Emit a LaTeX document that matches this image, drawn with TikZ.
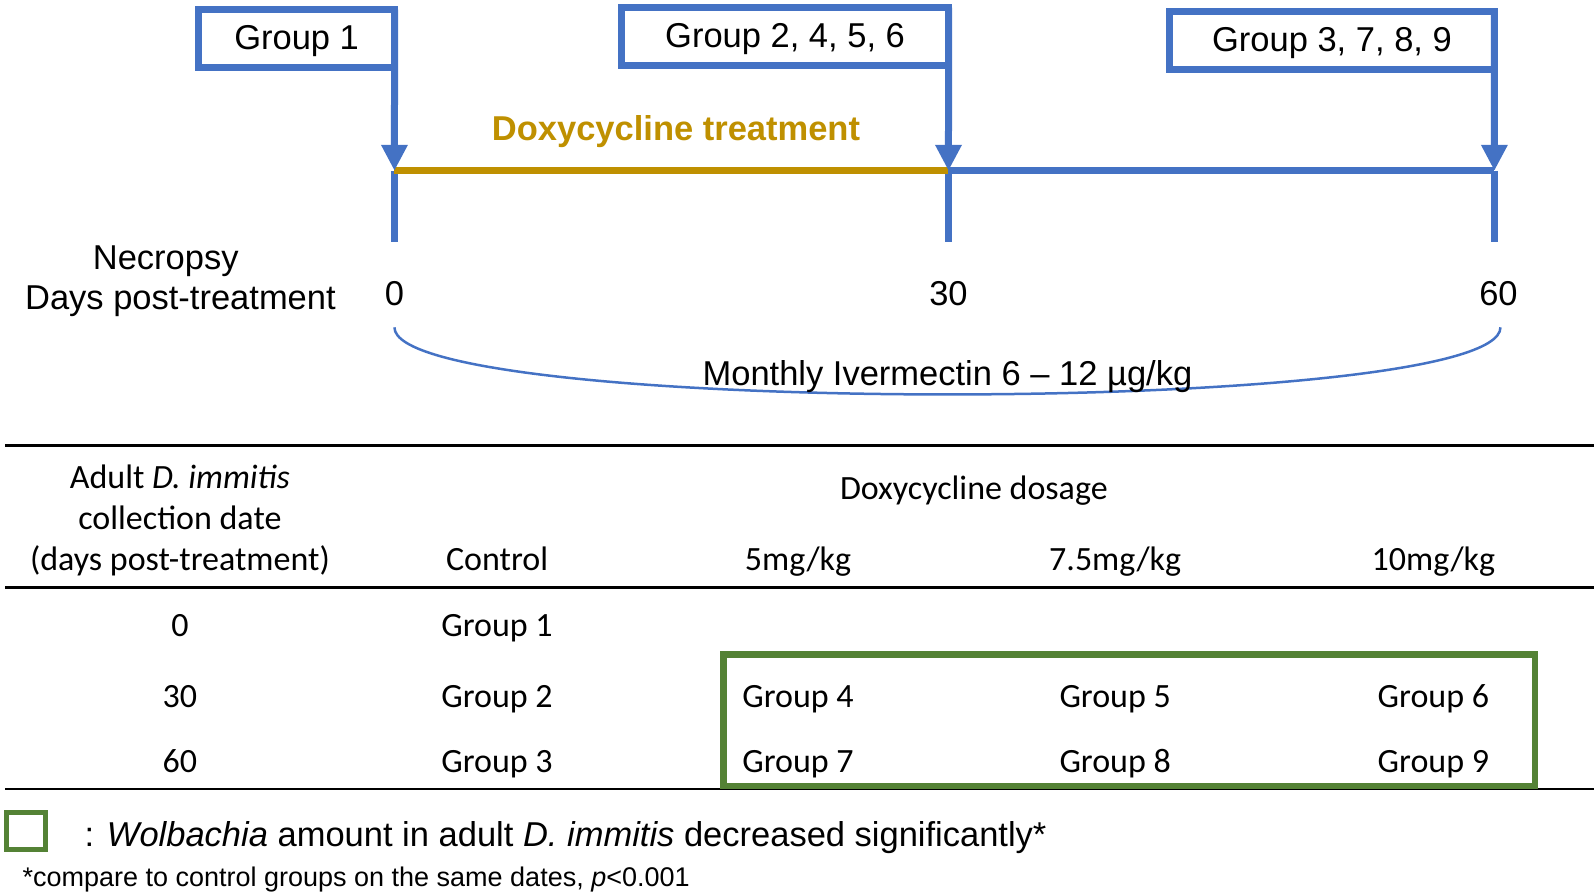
\documentclass[tikz,border=0pt]{standalone}
\usepackage{fontspec}
\setmainfont{Liberation Sans}
\newfontfamily\tablefont{Carlito}
\usetikzlibrary{arrows.meta}
\definecolor{ablue}{HTML}{4472C4}
\definecolor{agold}{HTML}{BF9000}
\definecolor{agreen}{HTML}{548235}

\begin{document}
\begin{tikzpicture}[x=1.0166pt, y=-1.0166pt,
	big/.style={font=\fontsize{34.5}{40}\selectfont, inner sep=0pt, anchor=base},
	cell/.style={font=\tablefont\fontsize{34}{40}\selectfont, inner sep=0pt, anchor=base},
	groupbox/.style={font=\fontsize{34.5}{40}\selectfont, inner sep=0pt, draw=ablue, line width=7pt,
		outer sep=0pt, minimum height=58pt, text height=25pt, text depth=3pt},
	drop/.style={ablue, line width=7pt, -{Triangle[width=25pt,length=26pt]}},
	tl/.style={line width=7pt},
	rule/.style={black, line width=2.5pt}]
	\useasboundingbox (0,0) rectangle (1568,881);

	% timeline
	\coordinate (t0) at (388,168);
	\coordinate (t30) at (933,168);
	\coordinate (t60) at (1470,168);
	\coordinate (b0) at (388,238);
	\coordinate (b30) at (933,238);
	\coordinate (b60) at (1470,238);
	\draw[tl, ablue] (t0) -- (b0);
	\draw[tl, ablue] (t30) -- (b30);
	\draw[tl, ablue] (t60) -- (b60);
	\draw[tl, agold] (t0) -- (t30);
	\draw[tl, ablue] (t30) -- (t60);

	\node[groupbox, minimum width=196pt] (grp1) at (291.75,38) {Group 1};
	\node[groupbox, minimum width=327pt] (grp2) at (772.25,36) {Group 2, 4, 5, 6};
	\node[groupbox, minimum width=325pt] (grp3) at (1310.25,39.75) {Group 3, 7, 8, 9};
	\draw[drop] (grp1.north east) -- (t0);
	\draw[drop] (grp2.north east) -- (t30);
	\draw[drop] (grp3.north east) -- (t60);

	\node[big, agold, font=\fontsize{34.5}{40}\selectfont\bfseries] (doxy) at (665,138) {Doxycycline treatment};
	\node[big] (necro) at (163,265) {Necropsy};
	\node[big] (days) at (177.5,304.5) {Days post-treatment};
	\node[big] (d0) at (388,301) {0};
	\node[big] (d30) at (933,301) {30};
	\node[big] (d60) at (1474,301) {60};

	% ivermectin
	\coordinate (a0) at (388,322);
	\coordinate (a60) at (1476,322);
	\draw[ablue, line width=2.5pt] (a0) .. controls (388,410) and (1476,410) .. (a60);
	\node[big] (iver) at (932,379) {Monthly Ivermectin 6 – 12 µg/kg};

	% table
	\draw[rule] (5,438) -- (1568,438);
	\draw[rule] (5,578) -- (1568,578);
	\draw[rule] (5,776) -- (1568,776);
	\node[cell] (hd1) at (177,480.5) {Adult \textit{D. immitis}};
	\node[cell] (hd2) at (177,521) {collection date};
	\node[cell] (hd3) at (177,561) {(days post-treatment)};
	\node[cell] (ctrl) at (489,561) {Control};
	\node[cell] (dose) at (958,491) {Doxycycline dosage};
	\node[cell] (c5) at (785,561) {5mg/kg};
	\node[cell] (c75) at (1097,561) {7.5mg/kg};
	\node[cell] (c10) at (1410,561) {10mg/kg};
	\node[cell] (r0) at (177,626) {0};
	\node[cell] (r30) at (177,695.5) {30};
	\node[cell] (r60) at (177,759.5) {60};
	\node[cell] (cg1) at (489,626) {Group 1};
	\node[cell] (cg2) at (489,695.5) {Group 2};
	\node[cell] (cg3) at (489,759.5) {Group 3};
	\foreach \x/\a/\b in {785/4/7, 1097/5/8, 1410/6/9} {
		\node[cell] (cg\a) at (\x,695.5) {Group \a};
		\node[cell] (cg\b) at (\x,759.5) {Group \b};
	}
	\draw[agreen, line width=6.5pt] (711.5,644) rectangle (1510,773);

	% legend
	\draw[agreen, line width=5pt] (6.5,799.5) rectangle (44.5,835.5);
	\node[big, anchor=base west] (legend) at (83,833) {: \textit{Wolbachia} amount in adult \textit{D. immitis} decreased significantly*};
	\node[big, anchor=base west, font=\fontsize{27}{30}\selectfont] (note) at (22,872) {*compare to control groups on the same dates, \textit{p}<0.001};
\end{tikzpicture}
\end{document}
